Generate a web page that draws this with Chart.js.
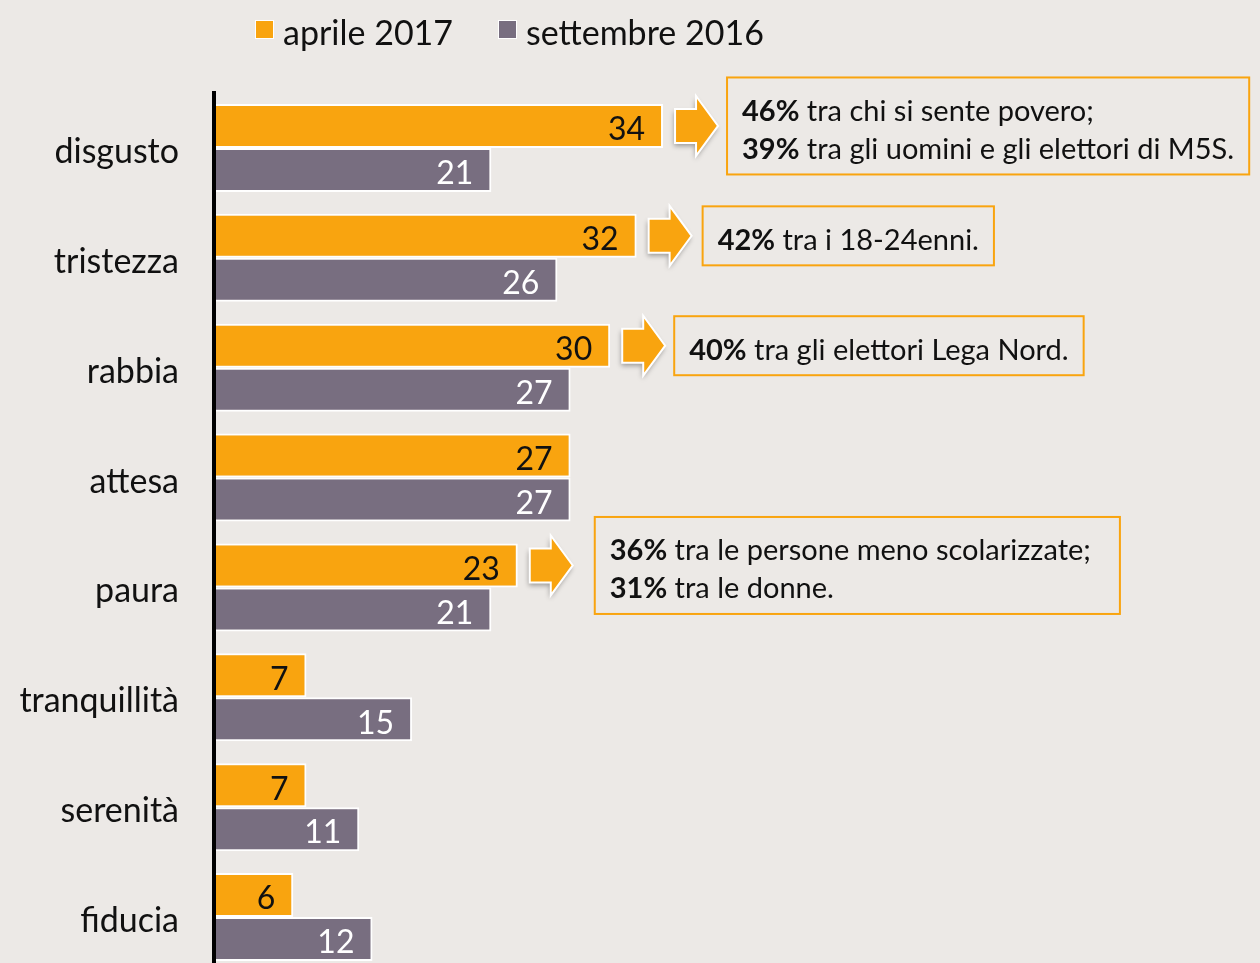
<!DOCTYPE html>
<html lang="it">
<head>
<meta charset="utf-8">
<title>Emozioni - aprile 2017 vs settembre 2016</title>
<script src="https://cdn.jsdelivr.net/npm/chart.js@4/dist/chart.umd.min.js"></script>
<style>
  html, body { margin:0; padding:0; background:#ECE9E6; overflow:hidden; }
  .wrap { position:relative; width:1260px; height:980px; }
  #legend { position:absolute; left:0; top:0; font-family:Lato, sans-serif; font-size:34px; color:#111; }
  .legend-item { position:absolute; top:11px; white-space:nowrap; }
  .swatch { position:absolute; top:9px; width:17px; height:17px; border:1px solid #fff; }
  .legend-label { position:absolute; left:28px; top:0; }
</style>
</head>
<body>
<div class="wrap">
  <canvas id="emoChart" width="1260" height="980"></canvas>
  <div id="legend"></div>
</div>
<script>
// categories and values
const categories = ['disgusto','tristezza','rabbia','attesa','paura','tranquillità','serenità','fiducia'];
const aprile2017 = [34, 32, 30, 27, 23, 7, 7, 6];
const settembre2016 = [21, 26, 27, 27, 21, 15, 11, 12];
const seriesNames = ['aprile 2017','settembre 2016'];

// callouts: which category they point at, bold part and the rest of each line
const noteCategory = ['disgusto','tristezza','rabbia','paura'];
const noteBold = [['46%','39%'], ['42%'], ['40%'], ['36%','31%']];
const noteRest = [
  [' tra chi si sente povero;', ' tra gli uomini e gli elettori di M5S.'],
  [' tra i 18-24enni.'],
  [' tra gli elettori Lega Nord.'],
  [' tra le persone meno scolarizzate;', ' tra le donne.']
];

const ORANGE = '#F9A40F';
const PURPLE = '#786E80';
const FONT = 'Lato, sans-serif';
const NOTE_SIZE = 29;
// gap arrow->box and extra right space per box (the last box is looser in the original)
const BOX_GAP = [9, 11, 9, 22];
const BOX_EXTRA = [0, 0, 0, 14];

// value labels at the end of each bar
const valueLabels = {
  id:'valueLabels',
  afterDatasetsDraw(chart){
    const ctx = chart.ctx;
    ctx.save();
    ctx.font = '32px ' + FONT;
    ctx.textAlign = 'right';
    ctx.textBaseline = 'middle';
    chart.data.datasets.forEach((ds, di) => {
      ctx.fillStyle = di === 0 ? '#111' : '#fff';
      chart.getDatasetMeta(di).data.forEach((bar, i) => {
        ctx.fillText(String(ds.data[i]), bar.x - 18, bar.y + 4);
      });
    });
    ctx.restore();
  }
};

// arrows + boxed notes
const callouts = {
  id:'callouts',
  afterDatasetsDraw(chart){
    const ctx = chart.ctx;
    const meta = chart.getDatasetMeta(0);
    noteCategory.forEach((cat, n) => {
      const bar = meta.data[categories.indexOf(cat)];
      const ax = bar.x + 12, cy = bar.y;

      ctx.save();
      ctx.beginPath();
      ctx.moveTo(ax, cy - 17);
      ctx.lineTo(ax + 21, cy - 17);
      ctx.lineTo(ax + 21, cy - 30);
      ctx.lineTo(ax + 43, cy);
      ctx.lineTo(ax + 21, cy + 30);
      ctx.lineTo(ax + 21, cy + 17);
      ctx.lineTo(ax, cy + 17);
      ctx.closePath();
      ctx.shadowColor = 'rgba(0,0,0,0.35)';
      ctx.shadowBlur = 5;
      ctx.shadowOffsetX = -1;
      ctx.shadowOffsetY = 3;
      ctx.fillStyle = ORANGE;
      ctx.fill();
      ctx.shadowColor = 'transparent';
      ctx.strokeStyle = '#fff';
      ctx.lineWidth = 2;
      ctx.stroke();
      ctx.restore();

      // box
      const lines = noteBold[n].length;
      ctx.save();
      ctx.textBaseline = 'middle';
      let maxW = 0;
      noteBold[n].forEach((b, k) => {
        ctx.font = 'bold ' + NOTE_SIZE + 'px ' + FONT;
        const w1 = ctx.measureText(b).width;
        ctx.font = NOTE_SIZE + 'px ' + FONT;
        const w2 = ctx.measureText(noteRest[n][k]).width;
        maxW = Math.max(maxW, w1 + w2);
      });
      const bx = ax + 43 + BOX_GAP[n];
      const bh = 21 + 38 * lines;
      const by = cy - bh / 2;
      const bw = maxW + 30 + BOX_EXTRA[n];
      ctx.strokeStyle = ORANGE;
      ctx.lineWidth = 2;
      ctx.strokeRect(bx, by, bw, bh);
      ctx.fillStyle = '#111';
      noteBold[n].forEach((b, k) => {
        const ty = by + 34 + 38 * k;
        ctx.font = 'bold ' + NOTE_SIZE + 'px ' + FONT;
        ctx.fillText(b, bx + 15, ty);
        const w1 = ctx.measureText(b).width;
        ctx.font = NOTE_SIZE + 'px ' + FONT;
        ctx.fillText(noteRest[n][k], bx + 15 + w1, ty);
      });
      ctx.restore();
    });
  }
};

const emoChart = new Chart(document.getElementById('emoChart'), {
  type:'bar',
  data:{
    labels:categories,
    datasets:[
      {
        label:seriesNames[0],
        data:aprile2017,
        backgroundColor:ORANGE,
        borderColor:'#fff',
        borderWidth:2,
        categoryPercentage:0.8,
        barPercentage:1.0
      },
      {
        label:seriesNames[1],
        data:settembre2016,
        backgroundColor:PURPLE,
        borderColor:'#fff',
        borderWidth:2,
        categoryPercentage:0.8,
        barPercentage:1.0
      }
    ]
  },
  options:{
    indexAxis:'y',
    responsive:false,
    animation:false,
    layout:{padding:{top:93, bottom:8, left:0, right:0}},
    plugins:{legend:{display:false}, tooltip:{enabled:false}},
    scales:{
      x:{min:0, max:79.2, display:false},
      y:{
        grid:{display:false, drawTicks:false},
        border:{color:'#000', width:4, z:1}, // axis line drawn over the bar starts
        ticks:{color:'#111', font:{family:FONT, size:34}, padding:35, labelOffset:4},
        afterFit:function(scale){
          // fixed axis width; no extra label padding top/bottom
          scale.width = 214;
          scale.paddingTop = 0;
          scale.paddingBottom = 0;
        }
      }
    }
  },
  plugins:[valueLabels, callouts]
});

// simple legend, top left as in the original
function createLegend(containerId, labels, colors, lefts){
  const container = document.getElementById(containerId);
  container.innerHTML = '';
  labels.forEach((lab, i) => {
    const item = document.createElement('div');
    item.className = 'legend-item';
    item.style.left = lefts[i] + 'px';
    const sw = document.createElement('span');
    sw.className = 'swatch';
    sw.style.backgroundColor = colors[i];
    const lbl = document.createElement('span');
    lbl.className = 'legend-label';
    lbl.textContent = lab;
    item.appendChild(sw);
    item.appendChild(lbl);
    container.appendChild(item);
  });
}
createLegend('legend', seriesNames, [ORANGE, PURPLE], [255, 498]);
</script>
</body>
</html>
